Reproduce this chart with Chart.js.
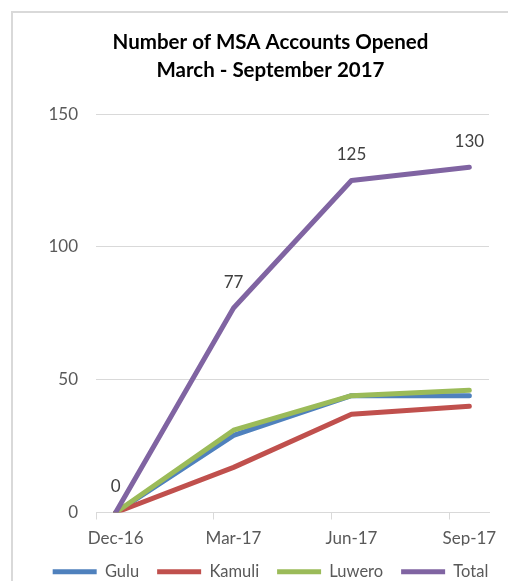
<!DOCTYPE html>
<html>
<head>
<meta charset="utf-8">
<script src="https://cdn.jsdelivr.net/npm/chart.js@4"></script>
<style>
  html, body { margin: 0; padding: 0; background: #fff; overflow: hidden; }
  body { width: 508px; height: 581px; position: relative; }
  /* Excel chart frame: only the left and top edges fall inside the shot */
  #frame { position: absolute; left: 11px; top: 11px; width: 495px; height: 577px;
           border-left: 2px solid #d9d9d9; border-top: 2px solid #d9d9d9; }
  #frame canvas { display: block; }
</style>
</head>
<body>
<div id="frame"><canvas id="msaChart" width="495" height="577"></canvas></div>
<script>
  // Month slots of the date axis (Excel base unit = month); only every 3rd is labelled
  var MONTHS = ['Dec-16', 'Jan-17', 'Feb-17', 'Mar-17', 'Apr-17', 'May-17',
                'Jun-17', 'Jul-17', 'Aug-17', 'Sep-17'];
  var SERIES_NAMES = ['Gulu', 'Kamuli', 'Luwero', 'Total'];
  // values only exist at quarter ends; other months are empty slots
  var GULU   = [0, null, null, 29, null, null, 44, null, null, 44];
  var KAMULI = [0, null, null, 17, null, null, 37, null, null, 40];
  var LUWERO = [0, null, null, 31, null, null, 44, null, null, 46];
  var TOTAL  = [0, null, null, 77, null, null, 125, null, null, 130];
  var Y_TICKS = [0, 50, 100, 150];

  var COLORS = ['#4F81BD', '#C0504D', '#9BBB59', '#8064A2'];
  var FONT = 'Lato, Carlito, "Open Sans", sans-serif';

  function line(label, data, color, order) {
    return {
      label: label, data: data, borderColor: color, backgroundColor: color,
      borderWidth: 5, pointRadius: 0, pointHoverRadius: 0, spanGaps: true,
      borderJoinStyle: 'round', borderCapStyle: 'round', tension: 0, order: order,
    };
  }

  // value labels above the Total series, placed from the library's own points
  var totalLabels = {
    id: 'totalLabels',
    afterDatasetsDraw: function (chart) {
      var idx = SERIES_NAMES.indexOf('Total');
      var meta = chart.getDatasetMeta(idx);
      var ctx = chart.ctx;
      ctx.save();
      ctx.font = '17px ' + FONT;
      ctx.fillStyle = '#404040';
      ctx.textAlign = 'center';
      ctx.textBaseline = 'middle';
      meta.data.forEach(function (pt, i) {
        var v = TOTAL[i];
        if (v === null) return;
        ctx.fillText(String(v), pt.x, pt.y - 26);
      });
      ctx.restore();
    },
  };

  new Chart(document.getElementById('msaChart'), {
    type: 'line',
    data: {
      labels: MONTHS,
      datasets: [
        line(SERIES_NAMES[0], GULU, COLORS[0], 4),
        line(SERIES_NAMES[1], KAMULI, COLORS[1], 3),
        line(SERIES_NAMES[2], LUWERO, COLORS[2], 2),
        line(SERIES_NAMES[3], TOTAL, COLORS[3], 1),
      ],
    },
    plugins: [totalLabels],
    options: {
      responsive: false, animation: false,
      layout: { padding: { left: 20, right: 0, top: 0, bottom: 0 } },
      plugins: {
        tooltip: { enabled: false },
        title: {
          display: true,
          text: ['Number of MSA Accounts Opened', 'March - September 2017'],
          color: '#000', font: { family: FONT, size: 20.5, weight: 'bold', lineHeight: 1.37 },
          padding: { top: 15, bottom: 30 },
        },
        legend: {
          position: 'bottom',
          labels: {
            color: '#595959', font: { family: FONT, size: 16.5 },
            boxWidth: 44, boxHeight: 5, padding: 18,
            sort: function (a, b) { return a.datasetIndex - b.datasetIndex; },
            generateLabels: function (chart) {
              var items = Chart.defaults.plugins.legend.labels.generateLabels(chart);
              items.forEach(function (it) { it.lineWidth = 0; });
              return items;
            },
          },
        },
      },
      scales: {
        x: {
          type: 'category', offset: true,
          afterFit: function (scale) { scale.height = 33; },
          border: { color: '#d9d9d9', width: 1 },
          grid: {
            offset: true, drawOnChartArea: false, drawTicks: true, tickLength: 7,
            tickColor: function (c) {
              return (c.index !== undefined && c.index % 3 === 0 && c.index < MONTHS.length) ? '#d9d9d9' : 'rgba(0,0,0,0)';
            },
          },
          ticks: {
            autoSkip: false, maxRotation: 0, minRotation: 0, padding: 9,
            color: '#595959', font: { family: FONT, size: 17 },
            callback: function (v, i) { return i % 3 === 0 ? MONTHS[i] : ''; },
          },
        },
        y: {
          min: Y_TICKS[0], max: Y_TICKS[Y_TICKS.length - 1],
          afterFit: function (scale) { scale.width = 63; },
          afterBuildTicks: function (scale) {
            scale.ticks = Y_TICKS.map(function (v) { return { value: v }; });
          },
          border: { display: false },
          grid: { color: '#d9d9d9', lineWidth: 1, drawTicks: false },
          ticks: { padding: 18, color: '#595959', font: { family: FONT, size: 17 } },
        },
        // empty right-hand gutter so the plot stops where Excel's does
        gutter: {
          type: 'linear', position: 'right',
          afterFit: function (scale) { scale.width = 19; },
          border: { display: false },
          grid: { drawOnChartArea: false, drawTicks: false },
          ticks: { display: false },
        },
      },
    },
  });
</script>
</body>
</html>
